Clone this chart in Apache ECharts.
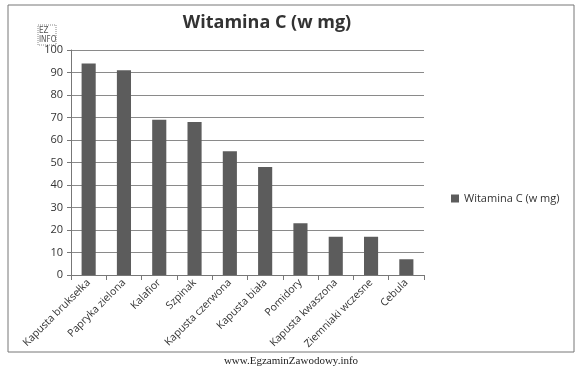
<!DOCTYPE html>
<html><head><meta charset="utf-8">
<script src="https://cdn.jsdelivr.net/npm/echarts@6/dist/echarts.min.js"></script>
<style>html,body{margin:0;padding:0;background:#fff}#c{width:582px;height:369px}</style>
</head><body><div id="c"></div>
<script>
const categories = ['Kapusta bruksełka','Papryka zielona','Kalafior','Szpinak','Kapusta czerwona','Kapusta biała','Pomidory','Kapusta kwaszona','Ziemniaki wczesne','Cebula'];
const values = [94, 91, 69, 68, 55, 48, 23, 17, 17, 7];
const seriesName = 'Witamina C (w mg)';
const chart = echarts.init(document.getElementById('c'), null, {renderer:'canvas'});
chart.setOption({
  backgroundColor:'#fff',
  animation:false,
  title:{text:'Witamina C (w mg)', left:262, top:9, textAlign:'center',
    textStyle:{fontFamily:'Open Sans', fontWeight:'bold', fontSize:18, color:'#333'}},
  legend:{data:[seriesName], left:446, top:188, itemWidth:8, itemHeight:8, itemGap:4,
    textStyle:{fontFamily:'Open Sans', fontSize:11, color:'#333'}, icon:'rect'},
  grid:{left:71, right:158, top:50, bottom:94},
  xAxis:{type:'category', data:categories,
    axisLine:{lineStyle:{color:'#777'}}, axisTick:{show:true, lineStyle:{color:'#777'}},
    axisLabel:{rotate:45, interval:0, fontFamily:'Open Sans', fontSize:10.5, color:'#333', margin:6}},
  yAxis:{type:'value', min:0, max:100, interval:10,
    axisLine:{show:true, lineStyle:{color:'#777'}}, axisTick:{show:true, length:4, lineStyle:{color:'#777'}},
    splitLine:{lineStyle:{color:'#8a8a8a'}},
    axisLabel:{fontFamily:'Open Sans', fontSize:11, color:'#333', margin:8}},
  series:[{name:seriesName, type:'bar', data:values, barWidth:'40%',
    itemStyle:{color:'#5c5c5c'}}],
  graphic:[
    {type:'rect', shape:{x:8, y:5, width:566, height:347}, style:{fill:'none', stroke:'#777', lineWidth:1}},
    {type:'rect', shape:{x:38, y:25, width:18, height:20}, style:{fill:'none', stroke:'#888', lineWidth:1, lineDash:[1,1]}},
    {type:'text', left:39, top:26, style:{text:'EZ\nINFO', font:'8px DejaVu Sans Condensed', fill:'#555', lineHeight:9}},
    {type:'text', left:'center', top:356, style:{text:'www.EgzaminZawodowy.info', font:'11px "Liberation Serif"', fill:'#222'}}
  ]
});
</script></body></html>
